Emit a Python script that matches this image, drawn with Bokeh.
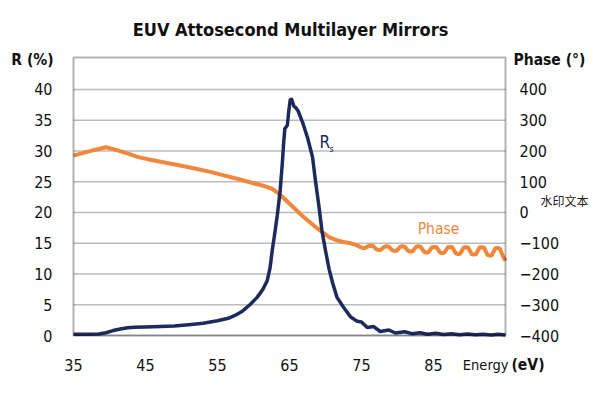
from bokeh.plotting import figure
from bokeh.models import Range1d, LinearAxis, FixedTicker, Label, ColumnDataSource, BoxAnnotation
from bokeh.embed import file_html
from bokeh.resources import INLINE

# ---- data ----
energy_rs = [35.0, 37.0, 38.5, 39.5, 40.5, 41.5, 42.5, 43.5, 45.0, 47.0, 49.0, 51.0, 53.0,
             55.0, 56.5, 57.5, 58.5, 59.5, 60.5, 61.3, 61.9, 62.3, 62.6, 63.0, 63.3, 63.7,
             64.0, 64.2, 64.35, 64.7, 64.9, 65.1, 65.3, 65.6, 65.9, 66.2, 66.8, 67.5, 68.2,
             68.6, 69.1, 69.5, 70.0, 70.5, 71.0, 71.6, 72.5, 73.5, 74.4, 75.0, 75.8, 76.7,
             77.6, 78.8, 79.7, 81.0, 82.0, 83.1, 84.2, 85.3, 86.4, 87.5, 88.6, 89.7, 90.8,
             91.9, 93.0, 94.0, 95.0]
rs_values = [0.2, 0.2, 0.25, 0.45, 0.8, 1.05, 1.25, 1.35, 1.4, 1.45, 1.55, 1.75, 2.0,
             2.4, 2.8, 3.3, 4.0, 5.0, 6.2, 7.5, 8.9, 11.0, 13.8, 17.0, 19.5, 23.5,
             28.0, 31.5, 33.6, 34.2, 36.5, 38.3, 38.4, 37.3, 37.0, 36.5, 34.7, 32.2, 29.0,
             25.2, 20.9, 17.1, 13.8, 10.8, 8.5, 6.2, 4.6, 3.0, 2.3, 2.2, 1.3, 1.45,
             0.65, 0.9, 0.4, 0.6, 0.3, 0.45, 0.2, 0.35, 0.15, 0.3, 0.12, 0.25, 0.12,
             0.22, 0.1, 0.2, 0.1]

energy_phase = [35.0, 37.0, 39.5, 41.0, 42.5, 44.0, 46.0, 48.0, 50.0, 52.0, 54.0, 56.0,
                58.0, 60.0, 61.5, 62.5, 63.5, 64.5, 65.5, 66.5, 67.5, 68.5, 69.5, 70.5,
                71.5, 72.5, 73.5, 74.3, 74.9, 75.2, 75.5, 76.0, 76.3, 76.6, 77.1, 77.4,
                77.7, 78.2, 78.5, 78.8, 79.3, 79.6, 79.9, 80.4, 80.7, 81.0, 81.5, 81.8,
                82.1, 82.6, 82.9, 83.2, 83.7, 84.0, 84.3, 84.8, 85.1, 85.4, 85.9, 86.2,
                86.5, 87.0, 87.3, 87.6, 88.1, 88.4, 88.7, 89.2, 89.5, 89.8, 90.3, 90.6,
                90.9, 91.4, 91.7, 92.0, 92.5, 92.8, 93.1, 93.6, 93.9, 94.2, 94.7, 95.0]
phase_values = [185, 198, 212, 203, 192, 180, 170, 161, 152, 142, 132, 120,
                108, 95, 86, 78, 62, 40, 18, -5, -25, -45, -63, -80,
                -90, -96, -100, -106, -113, -116, -115, -109, -108, -109, -120, -122,
                -121, -111, -110, -111, -123, -125, -124, -111, -110, -111, -125, -127,
                -126, -111, -110, -111, -128, -130, -129, -113, -112, -113, -130, -132,
                -131, -113, -112, -113, -133, -135, -134, -114, -113, -114, -135, -137,
                -136, -114, -113, -114, -138, -140, -139, -116, -115, -117, -145, -157]

x_ticks = [35, 45, 55, 65, 75, 85]
r_ticks = [0, 5, 10, 15, 20, 25, 30, 35, 40]
phase_ticks = [-400, -300, -200, -100, 0, 100, 200, 300, 400]

NAVY = "#1d2a5d"
ORANGE = "#f0873a"
FONT = "DejaVu Sans Condensed, Liberation Sans Narrow, Roboto"

# ---- layout: canvas size and plotting box (pixels) ----
W, H = 592, 392
BOX_L, BOX_R, BOX_T, BOX_B = 73, 505, 57, 335
X_MIN, X_MAX = 35, 95
R_MIN, R_MAX = 0, 45.2
PH_MIN, PH_MAX = -400, 504

kx = (BOX_R - BOX_L) / (X_MAX - X_MIN)
ky = (BOX_B - BOX_T) / (R_MAX - R_MIN)
kp = (BOX_B - BOX_T) / (PH_MAX - PH_MIN)

p = figure(width=W, height=H, output_backend="svg", toolbar_location=None, min_border=0,
           x_range=Range1d(X_MIN - BOX_L / kx, X_MAX + (W - BOX_R) / kx),
           y_range=Range1d(R_MIN - (H - BOX_B) / ky, R_MAX + BOX_T / ky))
p.extra_y_ranges = {"phase": Range1d(PH_MIN - (H - BOX_B) / kp, PH_MAX + BOX_T / kp)}
p.title.visible = False
p.background_fill_color = "white"
p.border_fill_color = "white"
p.outline_line_color = None
p.xgrid.visible = False
p.ygrid.visible = False

def style_axis(ax, standoff):
    ax.axis_line_color = None
    ax.major_tick_line_color = None
    ax.minor_tick_line_color = None
    ax.major_label_text_font = FONT
    ax.major_label_text_font_size = "16px"
    ax.major_label_text_color = "#111111"
    ax.major_label_standoff = standoff

xax = p.xaxis[0]
xax.fixed_location = R_MIN
xax.ticker = FixedTicker(ticks=x_ticks)
style_axis(xax, 17)

yax = p.yaxis[0]
yax.fixed_location = X_MIN
yax.ticker = FixedTicker(ticks=r_ticks)
style_axis(yax, 15)

ax2 = LinearAxis(y_range_name="phase", fixed_location=X_MAX, ticker=FixedTicker(ticks=phase_ticks))
style_axis(ax2, 8)
p.add_layout(ax2, "right")

# horizontal grid lines across the plotting box
p.segment(x0=[X_MIN] * len(r_ticks), x1=[X_MAX] * len(r_ticks), y0=r_ticks, y1=r_ticks,
          line_color="#bcbcbc", line_width=1.6)

rs_src = ColumnDataSource(dict(x=energy_rs, y=rs_values))
ph_src = ColumnDataSource(dict(x=energy_phase, y=phase_values))
p.line("x", "y", source=ph_src, y_range_name="phase", line_color=ORANGE, line_width=4,
       line_join="round")
p.line("x", "y", source=rs_src, line_color=NAVY, line_width=3.5, line_join="round")

p.add_layout(BoxAnnotation(left=X_MIN, right=X_MAX, bottom=R_MIN, top=R_MAX,
                           fill_alpha=0, line_color="black", line_width=2))

def lab(text, px, py, size, color="#111111", bold=False, align="left", font=FONT,
        baseline="middle"):
    # px, py are page pixel positions (y downward); the frame spans the whole canvas
    p.add_layout(Label(x=px, y=H - py, x_units="screen", y_units="screen", text=text,
                       text_font=font, text_font_size=size, text_color=color,
                       text_font_style="bold" if bold else "normal",
                       text_align=align, text_baseline=baseline))

lab("EUV Attosecond Multilayer Mirrors", 290, 29, "18px", bold=True, align="center")
lab("R (%)", 32, 59, "15.5px", bold=True, align="center")
lab("Phase (°)", 513, 59, "15.5px", bold=True)
lab("水印文本", 540, 200, "12px", color="#222222", font="Noto Sans CJK SC")
lab("Energy", 508, 364, "14.5px", align="right")
lab("(eV)", 511, 364, "15.5px", bold=True)
lab("R", 319, 141, "17px", color=NAVY, baseline="alphabetic")
lab("s", 329, 148, "9px", color=NAVY, baseline="alphabetic")
lab("Phase", 438, 228, "15.5px", color=ORANGE, align="center")

open("out.html", "w").write(file_html(p, INLINE))
